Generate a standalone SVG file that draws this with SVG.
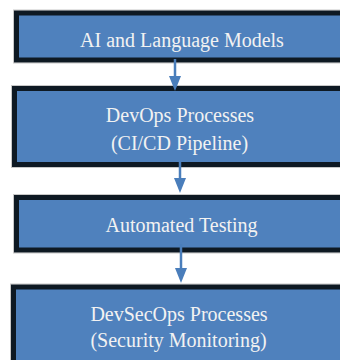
<svg xmlns="http://www.w3.org/2000/svg" width="340" height="360" viewBox="0 0 340 360" overflow="hidden" style="overflow:hidden">
  <style>
    .box { fill: #4f81bd; stroke: #0e1923; stroke-width: 5; }
    .halo { fill: none; stroke: #c8c8c8; stroke-width: 1; }
    .label { font-family: "Liberation Serif", "Times New Roman", serif; font-size: 20px; fill: #f2f2f2; text-anchor: middle; }
    .conn { stroke: #4a7ebb; stroke-width: 2.5; fill: none; }
  </style>
  <defs>
    <marker id="arrowHead" viewBox="0 0 15 12" refX="0" refY="6" markerWidth="15" markerHeight="12" markerUnits="userSpaceOnUse" orient="auto">
      <path d="M0,0 L15,6 L0,12 z" fill="#4a7ebb"/>
    </marker>
    <clipPath id="frame">
      <rect x="0" y="0" width="340" height="360"/>
    </clipPath>
  </defs>
  <rect width="340" height="360" fill="#ffffff"/>

  <g clip-path="url(#frame)">
    <g id="node-ai-models">
      <rect class="halo" x="13.5" y="10" width="400" height="53"/>
      <rect class="box" x="16.5" y="13" width="400" height="47"/>
      <text class="label" x="182" y="46.5">AI and Language Models</text>
    </g>

    <g id="node-devops">
      <rect class="halo" x="11.5" y="85.5" width="400" height="82"/>
      <rect class="box" x="14.5" y="88.5" width="400" height="76"/>
      <text class="label" x="180" y="122">DevOps Processes</text>
      <text class="label" x="179.5" y="150">(CI/CD Pipeline)</text>
    </g>

    <g id="node-testing">
      <rect class="halo" x="13.5" y="194.5" width="400" height="58.5"/>
      <rect class="box" x="16.5" y="197.5" width="400" height="52.5"/>
      <text class="label" x="181.5" y="232">Automated Testing</text>
    </g>

    <g id="node-devsecops">
      <rect class="halo" x="10.5" y="284" width="400" height="106"/>
      <rect class="box" x="13.5" y="287" width="400" height="100"/>
      <text class="label" x="179" y="321">DevSecOps Processes</text>
      <text class="label" x="178.5" y="347">(Security Monitoring)</text>
    </g>

    <g id="connectors">
      <line class="conn" x1="175" y1="59" x2="175" y2="76" marker-end="url(#arrowHead)"/>
      <line class="conn" x1="180" y1="162" x2="180" y2="178" marker-end="url(#arrowHead)"/>
      <line class="conn" x1="181" y1="244" x2="181" y2="268" marker-end="url(#arrowHead)"/>
    </g>
  </g>
</svg>
